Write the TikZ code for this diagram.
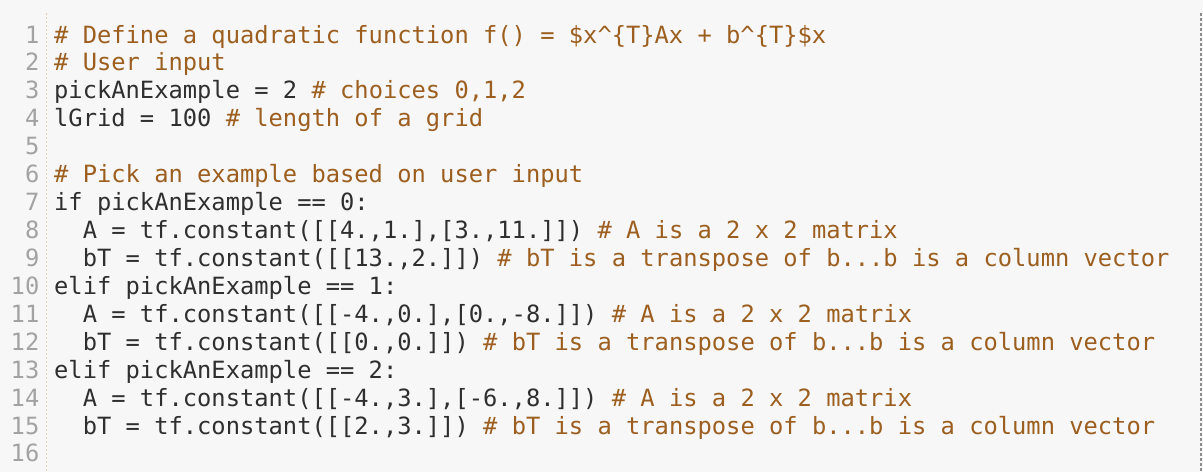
\documentclass[tikz,border=0pt]{standalone}
\usepackage{fontspec}
\usepackage{tikz}
\usetikzlibrary{positioning}
\newfontfamily\codefont{DejaVu Sans Mono}
\definecolor{codebg}{HTML}{F7F7F7}
\definecolor{codetext}{HTML}{2F2F2F}
\definecolor{codecomment}{HTML}{9C5F1F}
\definecolor{codenumber}{HTML}{A2A2A2}
\definecolor{gutterline}{HTML}{E6CFB4}
\definecolor{frameline}{HTML}{8C8C8C}
\newcommand{\cmt}[1]{\textcolor{codecomment}{#1}}
\tikzstyle{codeline} = [anchor=base west, inner sep=0, text=codetext,
                        font=\codefont\fontsize{23.75}{27.9}\selectfont\frenchspacing]
\tikzstyle{lineno} = [anchor=base east, inner sep=0, text=codenumber,
                      font=\codefont\fontsize{23.75}{27.9}\selectfont]

\begin{document}
\begin{tikzpicture}[x=1pt, y=1pt]
				\fill[codebg] (0, 0) rectangle (1203, -472);
				\useasboundingbox (0, 0) rectangle (1203, -472);

				% gutter and right edge
				\coordinate (GutterTop) at (46, -13);
				\coordinate (GutterBottom) at (46, -472);
				\draw[gutterline, line width=1pt, dash pattern=on 2pt off 2pt] (GutterTop) -- (GutterBottom);
				\coordinate (EdgeTop) at (1201, -13);
				\coordinate (EdgeBottom) at (1201, -472);
				\draw[frameline, line width=2pt, dash pattern=on 3pt off 2pt] (EdgeTop) -- (EdgeBottom);

				% line numbers
				\node (N1) [lineno] at (39.5, -43.0) {1};
				\node (N2) [lineno] at (39.5, -70.9) {2};
				\node (N3) [lineno] at (39.5, -98.9) {3};
				\node (N4) [lineno] at (39.5, -126.8) {4};
				\node (N5) [lineno] at (39.5, -154.7) {5};
				\node (N6) [lineno] at (39.5, -182.7) {6};
				\node (N7) [lineno] at (39.5, -210.6) {7};
				\node (N8) [lineno] at (39.5, -238.5) {8};
				\node (N9) [lineno] at (39.5, -266.4) {9};
				\node (N10) [lineno] at (39.5, -294.4) {10};
				\node (N11) [lineno] at (39.5, -322.3) {11};
				\node (N12) [lineno] at (39.5, -350.2) {12};
				\node (N13) [lineno] at (39.5, -378.2) {13};
				\node (N14) [lineno] at (39.5, -406.1) {14};
				\node (N15) [lineno] at (39.5, -434.0) {15};
				\node (N16) [lineno] at (39.5, -461.9) {16};

				% user input
				\node (C1) [codeline] at (54, -43.0) {\cmt{\# Define a quadratic function f() = \$x\textasciicircum\{T\}Ax + b\textasciicircum\{T\}\$x}};
				\node (C2) [codeline] at (54, -70.9) {\cmt{\# User input}};
				\node (C3) [codeline] at (54, -98.9) {pickAnExample = 2 \cmt{\# choices 0,1,2}};
				\node (C4) [codeline] at (54, -126.8) {lGrid = 100 \cmt{\# length of a grid}};

				% examples
				\node (C6) [codeline] at (54, -182.7) {\cmt{\# Pick an example based on user input}};
				\node (C7) [codeline] at (54, -210.6) {if pickAnExample == 0:};
				\node (C8) [codeline] at (54, -238.5) {\ \ A = tf.constant([[4.,1.],[3.,11.]]) \cmt{\# A is a 2 x 2 matrix}};
				\node (C9) [codeline] at (54, -266.4) {\ \ bT = tf.constant([[13.,2.]]) \cmt{\# bT is a transpose of b...b is a column vector}};
				\node (C10) [codeline] at (54, -294.4) {elif pickAnExample == 1:};
				\node (C11) [codeline] at (54, -322.3) {\ \ A = tf.constant([[-4.,0.],[0.,-8.]]) \cmt{\# A is a 2 x 2 matrix}};
				\node (C12) [codeline] at (54, -350.2) {\ \ bT = tf.constant([[0.,0.]]) \cmt{\# bT is a transpose of b...b is a column vector}};
				\node (C13) [codeline] at (54, -378.2) {elif pickAnExample == 2:};
				\node (C14) [codeline] at (54, -406.1) {\ \ A = tf.constant([[-4.,3.],[-6.,8.]]) \cmt{\# A is a 2 x 2 matrix}};
				\node (C15) [codeline] at (54, -434.0) {\ \ bT = tf.constant([[2.,3.]]) \cmt{\# bT is a transpose of b...b is a column vector}};
			\end{tikzpicture}
\end{document}
